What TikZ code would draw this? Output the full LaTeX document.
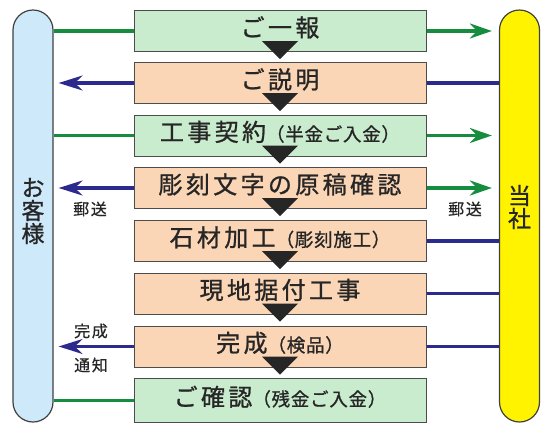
\documentclass[tikz,border=0pt]{standalone}
\usepackage{fontspec}
\setmainfont{Noto Sans CJK JP}
\newfontfamily\jpfont[LetterSpace=14,FakeBold=1]{Noto Sans CJK JP}
\newfontfamily\jpsub[LetterSpace=4,FakeBold=1]{Noto Sans CJK JP}
\newfontfamily\jpnote[LetterSpace=10,FakeBold=0.6]{Noto Sans CJK JP}
\usetikzlibrary{arrows.meta}
\definecolor{boxg}{RGB}{202,236,206}
\definecolor{boxo}{RGB}{251,214,182}
\definecolor{lineg}{RGB}{22,140,62}
\definecolor{lineb}{RGB}{44,42,140}
\definecolor{barb}{RGB}{206,233,250}
\definecolor{bary}{RGB}{255,243,0}
\newcommand{\ttl}[1]{{\jpfont\fontsize{24}{24}\selectfont #1}}
\newcommand{\subtx}[1]{{\jpsub\fontsize{18.5}{18.5}\selectfont #1}}
\tikzset{
  stepg/.style={draw=black!70,line width=1pt,fill=boxg,minimum width=292pt,
                minimum height=41pt,inner sep=0pt,text height=17pt,text depth=6pt,
                text=black!85},
  stepo/.style={stepg,fill=boxo},
  gline/.style={lineg,line width=3.2pt},
  bline/.style={lineb,line width=3.2pt},
  garr/.style={gline,-{Stealth[length=22pt,width=15pt]}},
  barr/.style={bline,-{Stealth[length=24pt,width=15pt]}},
  tri/.style={fill=black!85},
  bar/.style={draw=black!75,line width=1.2pt,rounded corners=20pt,
              minimum width=40pt,minimum height=412pt,inner sep=0pt},
  note/.style={font=\jpnote\fontsize{16}{16}\selectfont,text=black!85},
  barname/.style={align=center,font=\jpfont\fontsize{23}{23}\selectfont,text=black!85},
}
\begin{document}
\begin{tikzpicture}[x=1pt,y=-1pt]
  \useasboundingbox (0,0) rectangle (550,445);
  % side bars
  \node[bar,fill=barb] (cust) at (33,216) {};
  \node[bar,fill=bary] (firm) at (519.5,216) {};
  \node[barname] (custname) at (33,211) {お\\客\\様};
  \node[barname] (firmname) at (519.5,207) {当\\社};
  % steps
  \node[stepg] (b1) at (280,31)    {\ttl{ご一報}};
  \node[stepo] (b2) at (280,83)    {\ttl{ご説明}};
  \node[stepg] (b3) at (280,135.5) {\ttl{工事契約}\subtx{（半金ご入金）}};
  \node[stepo] (b4) at (280,188)   {\ttl{彫刻文字の原稿確認}};
  \node[stepo] (b5) at (280,241)   {\ttl{石材加工}\subtx{（彫刻施工）}};
  \node[stepo] (b6) at (280,293.5) {\ttl{現地据付工事}};
  \node[stepo] (b7) at (280,346.5) {\ttl{完成}\subtx{（検品）}};
  \node[stepg,minimum height=44pt] (b8) at (280,400.5) {\ttl{ご確認}\subtx{（残金ご入金）}};
  \foreach \b in {b1,b2,b3,b4,b5,b6,b7}
    \fill[tri] ([xshift=-18pt,yshift=11pt]\b.south) -- ([xshift=18pt,yshift=11pt]\b.south)
      -- ([yshift=-7pt]\b.south) -- cycle;
  % to the customer
  \draw[gline] (b1.west) -- (b1.west -| cust.east);
  \draw[barr] (b2.west) -- ([xshift=5pt]b2.west -| cust.east);
  \draw[gline] (b3.west) -- (b3.west -| cust.east);
  \draw[barr] (b4.west) -- ([xshift=5pt]b4.west -| cust.east);
  \draw[barr] (b7.west) -- ([xshift=5pt]b7.west -| cust.east);
  \draw[gline] (b8.west) -- (b8.west -| cust.east);
  % to the company
  \draw[garr] (b1.east) -- ([xshift=-7pt]b1.east -| firm.west);
  \draw[bline] (b2.east) -- (b2.east -| firm.west);
  \draw[garr] (b3.east) -- ([xshift=-7pt]b3.east -| firm.west);
  \draw[garr] (b4.east) -- ([xshift=-7pt]b4.east -| firm.west);
  \draw[bline] (b5.east) -- (b5.east -| firm.west);
  \draw[bline] (b6.east) -- (b6.east -| firm.west);
  \draw[bline] (b7.east) -- (b7.east -| firm.west);
  % notes
  \node[note] (mail1) at (90,209) {郵送};
  \node[note] (mail2) at (465,209) {郵送};
  \node[note] (done1) at (91,331) {完成};
  \node[note] (done2) at (91,365) {通知};
\end{tikzpicture}
\end{document}
